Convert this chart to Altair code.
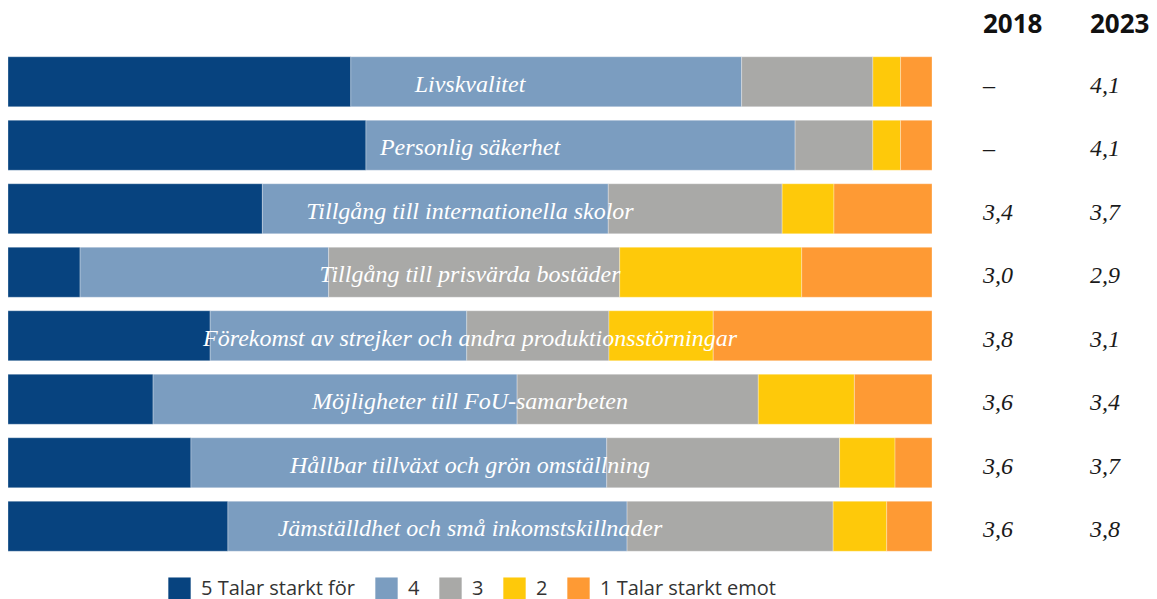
import altair as alt
import pandas as pd

categories = [
    "Livskvalitet",
    "Personlig säkerhet",
    "Tillgång till internationella skolor",
    "Tillgång till prisvärda bostäder",
    "Förekomst av strejker och andra produktionsstörningar",
    "Möjligheter till FoU-samarbeten",
    "Hållbar tillväxt och grön omställning",
    "Jämställdhet och små inkomstskillnader",
]
levels = ["5 Talar starkt för", "4", "3", "2", "1 Talar starkt emot"]
s5 = [37.1, 38.7, 27.5, 7.8, 21.9, 15.7, 19.8, 23.8]
s4 = [42.3, 46.4, 37.4, 26.9, 27.8, 39.4, 45.0, 43.2]
s3 = [14.2, 8.4, 18.8, 31.5, 15.4, 26.1, 25.2, 22.3]
s2 = [3.0, 3.0, 5.6, 19.7, 11.3, 10.4, 6.0, 5.8]
s1 = [3.4, 3.4, 10.6, 14.1, 23.7, 8.4, 4.0, 4.9]
v2018 = ["–", "–", "3,4", "3,0", "3,8", "3,6", "3,6", "3,6"]
v2023 = ["4,1", "4,1", "3,7", "2,9", "3,1", "3,4", "3,7", "3,8"]
headers = ["2018", "2023"]
colors = ["#07437f", "#7b9dc0", "#a9a9a7", "#fec90a", "#fe9a34"]

rows = []
for i, c in enumerate(categories):
    for j, (lev, vals) in enumerate(zip(levels, [s5, s4, s3, s2, s1])):
        rows.append({"cat": c, "level": lev, "order": j, "share": vals[i]})
df = pd.DataFrame(rows)
lab = pd.DataFrame({"cat": categories, "v2018": v2018, "v2023": v2023})
hdr = pd.DataFrame({"h18": [headers[0]], "h23": [headers[1]]})

y = alt.Y("cat:N", sort=categories, axis=None,
          scale=alt.Scale(range=[42, 550], paddingInner=0.2126, paddingOuter=0.1063))

bars = alt.Chart(df).mark_bar(stroke="white", strokeWidth=0.6, strokeOpacity=0.5).encode(
    x=alt.X("share:Q", stack="normalize", axis=None,
            scale=alt.Scale(domain=[0, 1], nice=False)),
    y=y,
    color=alt.Color(
        "level:N", sort=levels,
        scale=alt.Scale(domain=levels, range=colors),
        legend=alt.Legend(
            title=None, orient="none", legendX=160, legendY=569,
            direction="horizontal", symbolType="square", symbolSize=500,
            symbolStrokeWidth=0, labelFont="Open Sans", labelFontSize=20,
            labelColor="#333333", labelOffset=10, columnPadding=19,
            labelLimit=400,
        ),
    ),
    order=alt.Order("order:Q"),
)

barlabels = alt.Chart(lab).mark_text(
    font="Liberation Serif", fontStyle="italic", fontSize=24, color="white",
    baseline="alphabetic", dy=10,
).encode(y=y, x=alt.datum(0.5), text="cat:N")

col18 = alt.Chart(lab).mark_text(
    font="Liberation Serif", fontStyle="italic", fontSize=24, color="#1a1a1a",
    baseline="alphabetic", align="left", dy=11,
).encode(y=y, x=alt.value(975), text="v2018:N")

col23 = alt.Chart(lab).mark_text(
    font="Liberation Serif", fontStyle="italic", fontSize=24, color="#1a1a1a",
    baseline="alphabetic", align="left", dy=11,
).encode(y=y, x=alt.value(1082), text="v2023:N")

h18 = alt.Chart(hdr).mark_text(
    font="Open Sans", fontWeight="bold", fontSize=26, color="#111111",
    baseline="alphabetic", align="left",
).encode(x=alt.value(975), y=alt.value(25), text="h18:N")

h23 = alt.Chart(hdr).mark_text(
    font="Open Sans", fontWeight="bold", fontSize=26, color="#111111",
    baseline="alphabetic", align="left",
).encode(x=alt.value(1082), y=alt.value(25), text="h23:N")

chart = alt.layer(bars, barlabels, col18, col23, h18, h23).properties(
    width=924, height=550,
    padding={"left": 0, "top": 0, "right": 217, "bottom": 41},
    autosize=alt.AutoSizeParams(type="none"),
    background="white",
).configure_view(stroke=None)

chart.save("out.html", embed_options={"renderer": "svg", "actions": False})
